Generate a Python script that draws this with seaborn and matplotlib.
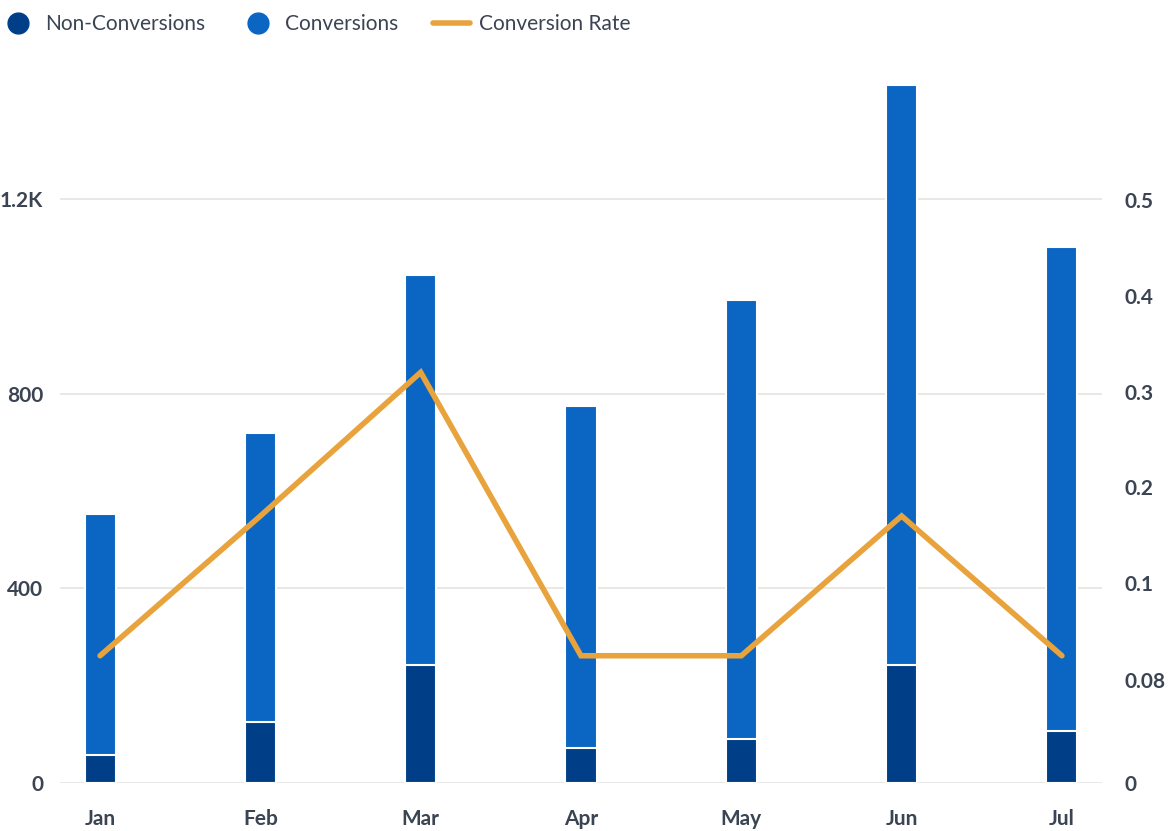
import numpy as np
import pandas as pd
import matplotlib
matplotlib.use("Agg")
import matplotlib.pyplot as plt
import seaborn as sns
from matplotlib.lines import Line2D
from matplotlib.ticker import FixedLocator, FixedFormatter

months = ["Jan", "Feb", "Mar", "Apr", "May", "Jun", "Jul"]
non_conversions = [57, 125, 242, 72, 90, 242, 107]
conversions = [496, 594, 802, 703, 902, 1192, 994]
conversion_rate = [0.085, 0.17, 0.32, 0.085, 0.085, 0.17, 0.085]

left_ticks = [0, 400, 800, 1200]
left_labels = ["0", "400", "800", "1.2K"]
right_ticks = [0, 0.08, 0.1, 0.2, 0.3, 0.4, 0.5]
right_labels = ["0", "0.08", "0.1", "0.2", "0.3", "0.4", "0.5"]

C_NON = "#003f87"
C_CONV = "#0a66c2"
C_RATE = "#e8a33d"
C_TEXT = "#3b4453"
C_GRID = "#e6e4e0"

sns.set_theme(style="white")
plt.rcParams["font.family"] = ["Lato", "DejaVu Sans"]

fig = plt.figure(figsize=(11.71, 8.31), dpi=100)
ax = fig.add_axes([60 / 1171, 48 / 831, (1102 - 60) / 1171, (783 - 53) / 831])

df = pd.DataFrame({"month": months, "non": non_conversions, "conv": conversions,
                   "rate": conversion_rate})
df["total"] = df["non"] + df["conv"]

bw = 31 / 160.0
sns.barplot(data=df, x="month", y="total", color=C_CONV, width=bw, ax=ax,
            edgecolor="white", linewidth=1.5, saturation=1, zorder=2)
sns.barplot(data=df, x="month", y="non", color=C_NON, width=bw, ax=ax,
            edgecolor="white", linewidth=1.5, saturation=1, zorder=3)

ax.set_xlim(-0.25, 6.25)
ax.set_ylim(0, 1500)
ax.yaxis.set_major_locator(FixedLocator(left_ticks))
ax.yaxis.set_major_formatter(FixedFormatter(left_labels))
ax.grid(axis="y", color=C_GRID, linewidth=1.2, zorder=0)
ax.set_axisbelow(True)
for s in ax.spines.values():
    s.set_visible(False)
ax.set_xlabel("")
ax.set_ylabel("")
ax.tick_params(axis="both", length=0, colors=C_TEXT, labelsize=15)
ax.tick_params(axis="x", pad=19)
ax.tick_params(axis="y", pad=12)
for lab in ax.get_xticklabels() + ax.get_yticklabels():
    lab.set_fontweight("bold")

# right axis with piecewise scale
bp_v = [0, 0.08, 0.1, 0.5, 1.0]
bp_p = [0, 103, 200, 583, 1061.75]

def fwd(v):
    return np.interp(v, bp_v, bp_p)

def inv(p):
    return np.interp(p, bp_p, bp_v)

ax2 = ax.twinx()
ax2.set_yscale("function", functions=(fwd, inv))
ax2.set_ylim(0, inv(730))
sns.lineplot(x=np.arange(len(months)), y=conversion_rate, ax=ax2, color=C_RATE,
             linewidth=4, solid_capstyle="round", solid_joinstyle="miter", zorder=5)
ax2.set_ylim(0, inv(730))
ax2.yaxis.set_major_locator(FixedLocator(right_ticks))
ax2.yaxis.set_major_formatter(FixedFormatter(right_labels))
ax2.yaxis.set_minor_locator(FixedLocator([]))
ax2.tick_params(axis="y", length=0, colors=C_TEXT, labelsize=15, pad=16)
for lab in ax2.get_yticklabels():
    lab.set_fontweight("bold")
for s in ax2.spines.values():
    s.set_visible(False)
ax2.grid(False)
ax2.set_ylabel("")

handles = [
    Line2D([], [], marker="o", linestyle="none", markersize=15, color=C_NON),
    Line2D([], [], marker="o", linestyle="none", markersize=15, color=C_CONV),
    Line2D([], [], color=C_RATE, linewidth=4, solid_capstyle="round"),
]
leg = fig.legend(handles, ["Non-Conversions", "Conversions", "Conversion Rate"],
                 loc="upper left", bbox_to_anchor=(-0.015, 1.003), ncol=3, frameon=False,
                 fontsize=15, handlelength=1.8, handletextpad=0.4, columnspacing=1.65,
                 borderaxespad=0.4)
for t in leg.get_texts():
    t.set_color(C_TEXT)

fig.savefig("out.png", dpi=100)
